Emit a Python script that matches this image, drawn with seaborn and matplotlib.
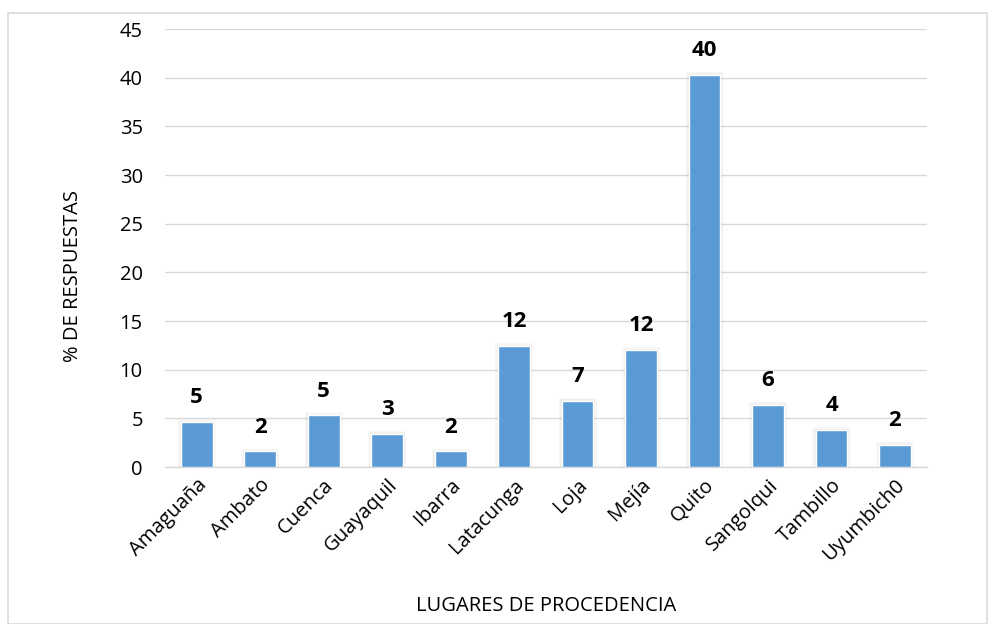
import matplotlib
matplotlib.use("Agg")
import matplotlib.pyplot as plt
from matplotlib.patches import Rectangle
import seaborn as sns
import pandas as pd

lugares = ["Amaguaña", "Ambato", "Cuenca", "Guayaquil", "Ibarra", "Latacunga",
           "Loja", "Mejía", "Quito", "Sangolqui", "Tambillo", "Uyumbich0"]
porcentajes = [4.6, 1.6, 5.3, 3.4, 1.6, 12.4, 6.8, 12.0, 40.3, 6.4, 3.8, 2.3]
y_ticks = [0, 5, 10, 15, 20, 25, 30, 35, 40, 45]

df = pd.DataFrame({"lugar": lugares, "pct": porcentajes})

sns.set_theme(style="white")
plt.rcParams["font.family"] = ["Open Sans", "DejaVu Sans"]

fig = plt.figure(figsize=(9.88, 6.24), dpi=100)
ax = fig.add_axes([0.167, 0.2516, 0.771, 0.7019])

sns.barplot(data=df, x="lugar", y="pct", color="#5B9BD5", saturation=1,
            width=0.5, ax=ax, zorder=3)

# faint glow behind each bar
for bar in list(ax.patches):
    for grow, a in [(0.10, 0.05), (0.05, 0.07)]:
        ax.add_patch(Rectangle((bar.get_x() - grow / 2, 0),
                               bar.get_width() + grow, bar.get_height() + grow * 3,
                               facecolor="#808080", alpha=a, edgecolor="none",
                               zorder=2))

for bar, v in zip(ax.patches[:len(porcentajes)], porcentajes):
    ax.annotate(f"{v:.0f}", (bar.get_x() + bar.get_width() / 2, v),
                xytext=(0, 10), textcoords="offset points",
                ha="center", va="bottom", fontsize=16, fontweight="bold",
                color="black")

ax.set_ylim(0, 45)
ax.set_yticks(y_ticks)
ax.set_xlim(-0.5, len(lugares) - 0.5)
ax.yaxis.grid(True, color="#D9D9D9", linewidth=1, zorder=0)
ax.set_axisbelow(True)
for s in ["top", "right", "left"]:
    ax.spines[s].set_visible(False)
ax.spines["bottom"].set_color("#D9D9D9")
ax.spines["bottom"].set_linewidth(1)
ax.tick_params(axis="both", length=0, labelsize=14.5, colors="black")
ax.tick_params(axis="y", pad=16)
ax.tick_params(axis="x", pad=6)
plt.setp(ax.get_xticklabels(), rotation=45, ha="right", rotation_mode="anchor")

ax.set_xlabel("LUGARES DE PROCEDENCIA", fontsize=14.5, color="black", labelpad=22)
ax.set_ylabel("% DE RESPUESTAS", fontsize=14.5, color="black")
ax.yaxis.set_label_coords(-0.108, 0.436)

fig.patches.append(Rectangle((8 / 988, 0), 1 - 9 / 988, 1 - 13 / 624,
                             transform=fig.transFigure, fill=False,
                             edgecolor="#D9D9D9", linewidth=1.2))

fig.savefig("out.png", dpi=100, facecolor="white")
